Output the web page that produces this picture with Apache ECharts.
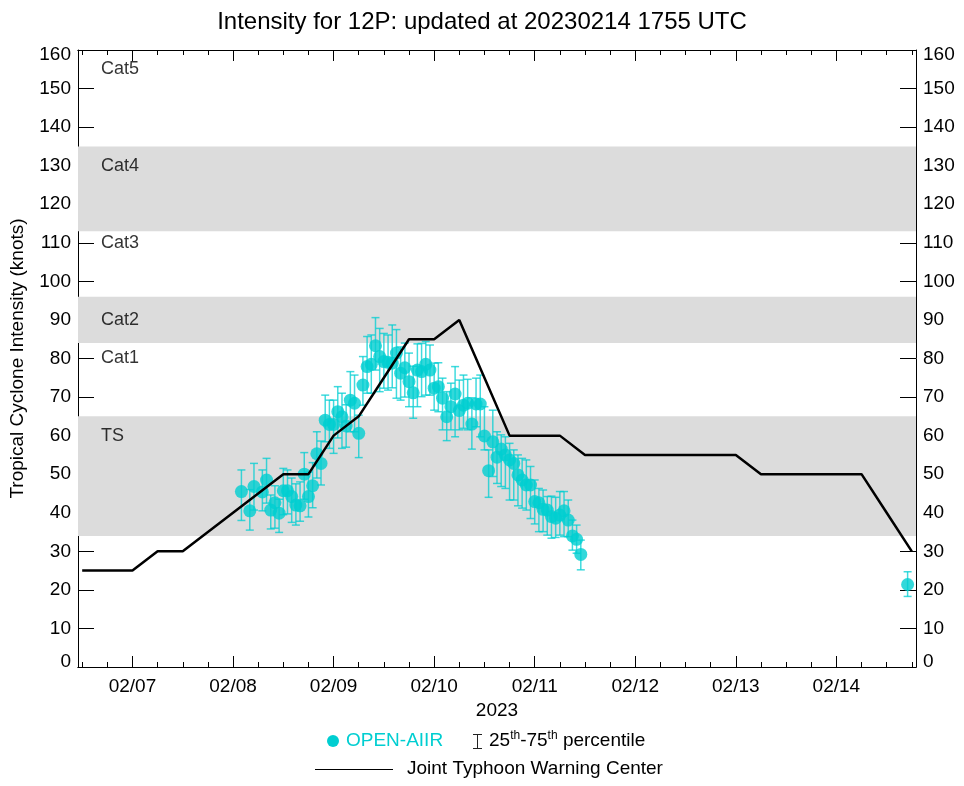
<!DOCTYPE html>
<html>
<head>
<meta charset="utf-8">
<script src="https://cdn.jsdelivr.net/npm/echarts@6/dist/echarts.min.js"></script>
<style>
html,body{margin:0;padding:0;background:#fff;}
#chart{width:964px;height:786px;}
</style>
</head>
<body>
<div id="chart"></div>
<script>
// ---------- DATA ----------
const titleText = 'Intensity for 12P: updated at 20230214 1755 UTC';
const yAxisTitle = 'Tropical Cyclone Intensity (knots)';
const yearLabel = '2023';
const dayTickLabels = ['02/07','02/08','02/09','02/10','02/11','02/12','02/13','02/14'];

// OPEN-AIIR estimates (time "MM/DD HH" UTC, median, 25th, 75th percentile)
const obsTimes = ['02/08 02','02/08 04','02/08 05','02/08 07','02/08 08','02/08 09','02/08 10','02/08 11','02/08 12','02/08 13',
  '02/08 14','02/08 15','02/08 16','02/08 17','02/08 18','02/08 19','02/08 20','02/08 21','02/08 22','02/08 23',
  '02/09 00','02/09 01','02/09 02','02/09 03','02/09 04','02/09 05','02/09 06','02/09 07','02/09 08','02/09 09',
  '02/09 10','02/09 11','02/09 12','02/09 13','02/09 14','02/09 15','02/09 16','02/09 17','02/09 18','02/09 19',
  '02/09 20','02/09 21','02/09 22','02/09 23','02/10 00','02/10 01','02/10 02','02/10 03','02/10 04','02/10 05',
  '02/10 06','02/10 07','02/10 08','02/10 09','02/10 10','02/10 11','02/10 12','02/10 13','02/10 14','02/10 15',
  '02/10 16','02/10 17','02/10 18','02/10 19','02/10 20','02/10 21','02/10 22','02/10 23','02/11 00','02/11 01',
  '02/11 02','02/11 03','02/11 04','02/11 05','02/11 06','02/11 07','02/11 08','02/11 09','02/11 10','02/11 11',
  '02/14 17'];
const obsValue = [45.5,40.5,46.8,45.4,48.5,40.7,42.6,39.9,45.7,45.7,
  44.2,42,41.8,50,44.2,47,55.3,52.8,64,62.9,
  62.9,66.2,64.9,62.5,69.2,68.4,60.6,73.1,77.9,78.5,
  83.3,80.5,79.2,79,78.8,81.4,76.2,77.6,74,71.1,
  77,76.6,78.5,77,72.3,72.7,69.7,64.9,67.5,70.8,
  66.5,67.9,68.4,63,68.2,68.2,59.9,50.9,58.4,54.4,
  56.5,55,53.7,52.8,49.8,48.5,47.2,47.2,42.9,42.6,
  40.9,40.7,39,38.6,39.4,40.5,38.1,34,33.1,29.2,
  21.4];
const obsP25 = [38,35.5,40.7,40.5,42.5,35.8,36,34.9,39.5,39.7,
  37.5,36.8,37.8,43.5,38.9,41.3,49,47.2,58.4,56.7,
  55.4,59.4,56.7,57,61,61,54.3,67.9,71,71,
  77,71.4,72.3,71.8,72.4,69.7,69.2,70,67.5,64.5,
  67.5,70.1,70.5,70.5,66.6,66.2,61.5,58.7,61.5,59.7,
  61.5,61.9,61.5,56.5,62.3,59.7,56.3,44,49.4,47.6,
  46.8,46.3,43.3,43.3,41.8,41.2,40.7,38.5,37.1,35.1,
  35.1,34.2,33.4,33.6,34.2,33.8,33.8,30.3,29.5,25.2,
  18.3];
const obsP75 = [51.1,46,52.8,51.1,54.1,44.6,47,43.5,51.5,51.1,
  49,47.5,48,55.6,50.5,53,61,58.6,70.5,69.2,
  69.2,72.7,71,68,76.6,75.7,65.3,80.5,85.7,86.1,
  90.6,87.8,86.5,86.1,88.7,87.5,83,84,81.4,78,
  83.8,83.9,84.4,83.5,78.8,78.9,74.9,71.4,73.6,77.9,
  74.4,75.7,74.6,69.8,74.9,75.7,67.5,56.3,66.6,61,
  60.2,59.7,58,56.3,55,54.1,53.7,52,48.5,46.3,
  45.9,44.2,44.3,44,45.5,45.5,43.3,38.1,36.8,32.9,
  24.7];

// JTWC best track / forecast
const jtwcTimes = ['02/06 12','02/07 00','02/07 06','02/07 12','02/07 18','02/08 00','02/08 06','02/08 12','02/08 18',
  '02/09 00','02/09 06','02/09 12','02/09 18','02/10 00','02/10 06','02/10 12','02/10 18','02/11 00','02/11 06',
  '02/11 12','02/12 00','02/12 12','02/13 00','02/13 06','02/13 12','02/14 00','02/14 06','02/14 12','02/14 18'];
const jtwcValue = [25,25,30,30,35,40,45,50,50,
  60,65,75,85,85,90,75,60,60,60,
  55,55,55,55,50,50,50,50,40,30];

// Saffir-Simpson shading bands and category labels
const bandLow  = [34, 84, 113];
const bandHigh = [65, 96, 135];
const catNames  = ['Cat5','Cat4','Cat3','Cat2','Cat1','TS'];
const catLevels = [155, 130, 110, 90, 80, 60];

// ---------- HELPERS ----------
function hoursOf(s){ // hours since 02/07 00 UTC
  const [md, hh] = s.split(' ');
  const day = parseInt(md.split('/')[1], 10);
  return (day - 7) * 24 + parseInt(hh, 10);
}
const X_MIN = hoursOf('02/06 11'), X_MAX = hoursOf('02/14 19');
const dayTicks = dayTickLabels.map(d => hoursOf(d + ' 00'));
const sixTicks = [];
for (let h = -12; h <= 186; h += 6) sixTicks.push(h);

const CYAN = '#00CED1';
const FONT = 'Liberation Sans, Arial, Helvetica, sans-serif';

const obsPts = obsTimes.map((t,i) => [hoursOf(t), obsValue[i]]);
const errPts = obsTimes.map((t,i) => [hoursOf(t), obsP25[i], obsP75[i]]);
const jtwcPts = jtwcTimes.map((t,i) => [hoursOf(t), jtwcValue[i]]);
const catPts = catNames.map((n,i) => ({value:[-7.5, catLevels[i]], name:n}));

function xAxisCfg(pos, ticks, len, labels){
  return {
    type:'value', min:X_MIN, max:X_MAX, position:pos,
    axisLine:{show:true, onZero:false, lineStyle:{color:'#000', width:1}},
    axisTick:{show:true, inside:true, length:len, customValues:ticks, lineStyle:{color:'#000', width:1}},
    axisLabel:labels ? {show:true, customValues:dayTicks, fontSize:19, color:'#000', fontFamily:FONT, margin:10,
      formatter:v => dayTickLabels[dayTicks.indexOf(Math.round(v))] || ''} : {show:false},
    splitLine:{show:false},
    name: labels ? yearLabel : '',
    nameLocation:'middle', nameGap:31,
    nameTextStyle:{fontSize:19, color:'#000', fontFamily:FONT}
  };
}
const edgeRich = {
  lo:{fontSize:19, fontFamily:FONT, color:'#000', padding:[0,0,11,0]},
  hi:{fontSize:19, fontFamily:FONT, color:'#000', padding:[9,0,0,0]}
};
function yAxisCfg(pos){
  return {
    type:'value', min:0, max:160, interval:10, position:pos,
    axisLine:{show:true, onZero:false, lineStyle:{color:'#000', width:1}},
    axisTick:{show:true, inside:true, length:16, lineStyle:{color:'#000', width:1}},
    axisLabel:{fontSize:19, color:'#000', fontFamily:FONT, margin:7, rich:edgeRich,
      formatter:v => v === 0 ? '{lo|0}' : (v === 160 ? '{hi|160}' : String(v))},
    splitLine:{show:false},
    name: pos === 'left' ? yAxisTitle : '',
    nameLocation:'middle', nameRotate:90, nameGap:51,
    nameTextStyle:{fontSize:19, color:'#000', fontFamily:FONT}
  };
}

const chart = echarts.init(document.getElementById('chart'), null, {renderer:'canvas'});
chart.setOption({
  backgroundColor:'#fff',
  animation:false,
  title:{text:titleText, left:'center', top:5,
    textStyle:{fontSize:24, fontWeight:'normal', color:'#000', fontFamily:FONT}},
  grid:{left:78, right:48, top:50, bottom:119, containLabel:false},
  xAxis:[
    xAxisCfg('bottom', dayTicks, 11, true),
    xAxisCfg('bottom', sixTicks, 5, false),
    xAxisCfg('top', dayTicks, 11, false),
    xAxisCfg('top', sixTicks, 5, false)
  ],
  yAxis:[yAxisCfg('left'), yAxisCfg('right')],
  series:[
    {
      type:'line', data:[], xAxisIndex:0, yAxisIndex:0, silent:true,
      markArea:{silent:true, itemStyle:{color:'#dcdcdc'},
        data: bandLow.map((lo,i) => [{yAxis:lo}, {yAxis:bandHigh[i]}])},
      z:1
    },
    {
      type:'scatter', data:catPts, symbolSize:0, silent:true, z:3,
      label:{show:true, position:'right', distance:0, formatter:p => p.name,
        fontSize:18, color:'#000', fontFamily:FONT}
    },
    {
      type:'custom', data:errPts, z:4, silent:true,
      renderItem:(params, api) => {
        const x = api.value(0);
        const pLo = api.coord([x, api.value(1)]);
        const pHi = api.coord([x, api.value(2)]);
        const w = 4;
        const st = {stroke:'rgba(0,206,209,0.75)', lineWidth:1.5};
        return {type:'group', children:[
          {type:'line', shape:{x1:pLo[0], y1:pLo[1], x2:pHi[0], y2:pHi[1]}, style:st},
          {type:'line', shape:{x1:pLo[0]-w, y1:pLo[1], x2:pLo[0]+w, y2:pLo[1]}, style:st},
          {type:'line', shape:{x1:pHi[0]-w, y1:pHi[1], x2:pHi[0]+w, y2:pHi[1]}, style:st}
        ]};
      }
    },
    {
      type:'scatter', name:'OPEN-AIIR', data:obsPts, symbol:'circle', symbolSize:13,
      itemStyle:{color:CYAN}, z:5
    },
    {
      type:'line', name:'Joint Typhoon Warning Center', data:jtwcPts, symbol:'none',
      lineStyle:{color:'#000', width:2.5}, z:6
    }
  ],
  graphic:[
    {type:'circle', shape:{cx:333, cy:741, r:6}, style:{fill:CYAN}},
    {type:'text', x:346, y:741, style:{text:'OPEN-AIIR', fill:CYAN, fontSize:19, fontFamily:FONT, textVerticalAlign:'middle'}},
    {type:'line', shape:{x1:477.5, y1:734, x2:477.5, y2:748}, style:{stroke:'#222', lineWidth:1}},
    {type:'line', shape:{x1:473, y1:734.5, x2:482, y2:734.5}, style:{stroke:'#222', lineWidth:1}},
    {type:'line', shape:{x1:473, y1:748.5, x2:482, y2:748.5}, style:{stroke:'#222', lineWidth:1}},
    {type:'text', x:489, y:741, style:{
      text:'25{s|th}-75{s|th} percentile', fill:'#000', fontSize:19, fontFamily:FONT, textVerticalAlign:'middle',
      rich:{s:{fontSize:12, fontFamily:FONT, fill:'#000', verticalAlign:'top', padding:[0,0,10,0]}}}},
    {type:'line', shape:{x1:315, y1:769.5, x2:393, y2:769.5}, style:{stroke:'#000', lineWidth:1}},
    {type:'text', x:407, y:769, style:{text:'Joint Typhoon Warning Center', fill:'#000', fontSize:19, fontFamily:FONT, textVerticalAlign:'middle'}}
  ]
});
</script>
</body>
</html>
